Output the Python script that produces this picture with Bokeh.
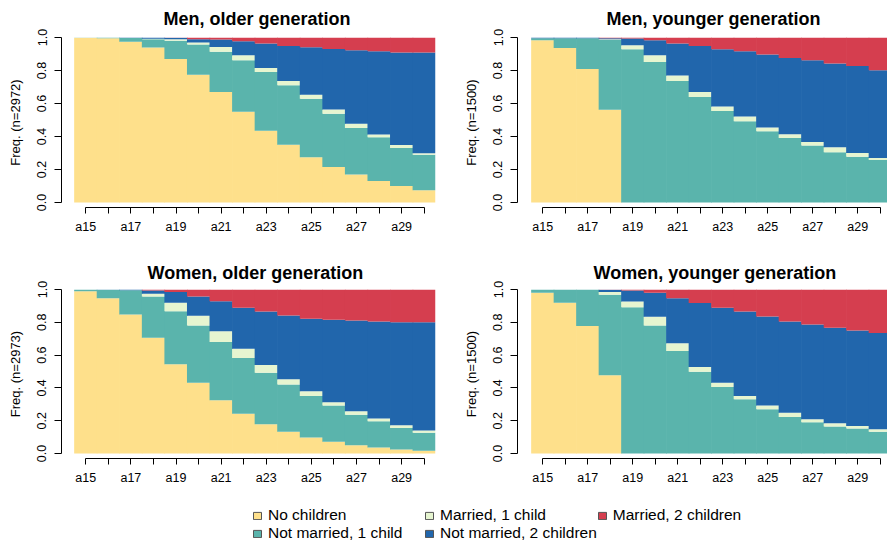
from bokeh.plotting import figure
from bokeh.models import (Range1d, FixedTicker, PrintfTickFormatter, ColumnDataSource,
                          Legend, LegendItem)
from bokeh.layouts import column, row
from bokeh.embed import file_html
from bokeh.resources import INLINE

# ---------------- data ----------------
ages = ["a15", "a16", "a17", "a18", "a19", "a20", "a21", "a22",
        "a23", "a24", "a25", "a26", "a27", "a28", "a29", "a30"]
age_tick_labels = ["a15", "", "a17", "", "a19", "", "a21", "",
                   "a23", "", "a25", "", "a27", "", "a29", ""]
states = ["No children", "Not married, 1 child", "Married, 1 child",
          "Not married, 2 children", "Married, 2 children"]
state_colors = ["#FEE08B", "#5AB4AC", "#E6F5D0", "#2166AC", "#D53E4F"]
y_ticks = [0.0, 0.2, 0.4, 0.6, 0.8, 1.0]

# Men, older generation (n=2972)
men_old_no_children = [0.998, 0.995, 0.975, 0.940, 0.870, 0.775, 0.670, 0.550, 0.435, 0.350, 0.275, 0.215, 0.170, 0.130, 0.100, 0.075]
men_old_notmar_1 = [0.002, 0.005, 0.022, 0.050, 0.110, 0.182, 0.243, 0.312, 0.356, 0.360, 0.354, 0.323, 0.282, 0.266, 0.231, 0.215]
men_old_mar_1 = [0.0, 0.0, 0.0, 0.003, 0.010, 0.013, 0.030, 0.031, 0.024, 0.026, 0.024, 0.026, 0.025, 0.016, 0.018, 0.008]
men_old_notmar_2 = [0.0, 0.0, 0.003, 0.007, 0.008, 0.020, 0.045, 0.085, 0.148, 0.213, 0.288, 0.367, 0.446, 0.505, 0.560, 0.611]
men_old_mar_2 = [0.0, 0.0, 0.0, 0.0, 0.002, 0.010, 0.012, 0.022, 0.037, 0.051, 0.059, 0.069, 0.077, 0.083, 0.091, 0.091]

# Men, younger generation (n=1500)
men_young_no_children = [0.984, 0.937, 0.809, 0.562, 0.0, 0.0, 0.0, 0.0, 0.0, 0.0, 0.0, 0.0, 0.0, 0.0, 0.0, 0.0]
men_young_notmar_1 = [0.011, 0.058, 0.186, 0.424, 0.929, 0.852, 0.736, 0.639, 0.554, 0.493, 0.432, 0.391, 0.345, 0.304, 0.278, 0.258]
men_young_mar_1 = [0.0, 0.0, 0.0, 0.004, 0.024, 0.040, 0.033, 0.030, 0.028, 0.028, 0.022, 0.023, 0.022, 0.031, 0.022, 0.012]
men_young_notmar_2 = [0.005, 0.005, 0.005, 0.006, 0.041, 0.092, 0.194, 0.280, 0.347, 0.396, 0.443, 0.462, 0.495, 0.507, 0.528, 0.531]
men_young_mar_2 = [0.0, 0.0, 0.0, 0.004, 0.006, 0.016, 0.037, 0.051, 0.071, 0.083, 0.103, 0.124, 0.138, 0.158, 0.172, 0.199]

# Women, older generation (n=2973)
women_old_no_children = [0.990, 0.947, 0.848, 0.706, 0.544, 0.432, 0.325, 0.243, 0.178, 0.132, 0.097, 0.071, 0.051, 0.037, 0.024, 0.016]
women_old_notmar_1 = [0.010, 0.051, 0.147, 0.251, 0.324, 0.349, 0.355, 0.339, 0.315, 0.288, 0.254, 0.221, 0.186, 0.160, 0.132, 0.110]
women_old_mar_1 = [0.0, 0.0, 0.0, 0.017, 0.051, 0.059, 0.066, 0.057, 0.047, 0.032, 0.028, 0.020, 0.021, 0.016, 0.016, 0.014]
women_old_notmar_2 = [0.0, 0.002, 0.005, 0.020, 0.065, 0.117, 0.183, 0.249, 0.326, 0.390, 0.443, 0.503, 0.553, 0.592, 0.629, 0.661]
women_old_mar_2 = [0.0, 0.0, 0.0, 0.006, 0.016, 0.043, 0.071, 0.112, 0.134, 0.158, 0.178, 0.185, 0.189, 0.195, 0.199, 0.199]

# Women, younger generation (n=1500)
women_young_no_children = [0.980, 0.919, 0.777, 0.477, 0.0, 0.0, 0.0, 0.0, 0.0, 0.0, 0.0, 0.0, 0.0, 0.0, 0.0, 0.0]
women_young_notmar_1 = [0.020, 0.081, 0.223, 0.491, 0.892, 0.781, 0.625, 0.499, 0.406, 0.331, 0.270, 0.223, 0.191, 0.164, 0.152, 0.132]
women_young_mar_1 = [0.0, 0.0, 0.0, 0.016, 0.035, 0.053, 0.048, 0.028, 0.026, 0.020, 0.022, 0.026, 0.018, 0.021, 0.016, 0.016]
women_young_notmar_2 = [0.0, 0.0, 0.0, 0.014, 0.067, 0.146, 0.274, 0.390, 0.456, 0.515, 0.544, 0.556, 0.578, 0.582, 0.582, 0.586]
women_young_mar_2 = [0.0, 0.0, 0.0, 0.002, 0.006, 0.020, 0.053, 0.083, 0.112, 0.134, 0.164, 0.195, 0.213, 0.233, 0.250, 0.266]

FONT = "Liberation Sans"
keys = ["s0", "s1", "s2", "s3", "s4"]


def make_panel(title, n, series, width, height, mb_left, mb_right, mb_top, mb_bottom,
               x_start, x_end, y_start, title_offset, title_standoff, title_valign):
    p = figure(width=width, height=height,
               x_range=Range1d(x_start, x_end),
               y_range=Range1d(y_start, 1.0),
               output_backend="svg", toolbar_location=None,
               min_border_left=mb_left, min_border_right=mb_right,
               min_border_top=mb_top, min_border_bottom=mb_bottom)
    data = {"x": list(range(len(ages)))}
    for k, s in zip(keys, series):
        data[k] = s
    src = ColumnDataSource(data)
    # slightly wider than 1 so neighbouring bars overlap and no white seams appear
    p.vbar_stack(keys, x="x", width=1.03, fill_color=state_colors,
                 line_color=None, source=src)

    p.outline_line_color = None
    p.xgrid.visible = False
    p.ygrid.visible = False
    p.background_fill_color = "white"
    p.border_fill_color = "white"

    p.title.text = title
    p.title.align = "left"
    p.title.vertical_align = title_valign
    p.title.offset = title_offset
    p.title.standoff = title_standoff
    p.title.text_font = FONT
    p.title.text_font_size = "18px"
    p.title.text_font_style = "bold"
    p.title.text_color = "#000000"

    xa = p.xaxis[0]
    xa.ticker = FixedTicker(ticks=list(range(len(ages))))
    xa.major_label_overrides = {i: lab for i, lab in enumerate(age_tick_labels)}
    xa.bounds = (0, len(ages) - 1)
    xa.minor_tick_line_color = None
    xa.major_tick_in = 0
    xa.major_tick_out = 6
    xa.major_label_standoff = 6
    xa.major_label_text_font = FONT
    xa.major_label_text_font_size = "12.5px"
    xa.major_label_text_color = "#000000"
    xa.axis_line_color = "#000000"
    xa.major_tick_line_color = "#000000"

    ya = p.yaxis[0]
    ya.ticker = FixedTicker(ticks=y_ticks)
    ya.formatter = PrintfTickFormatter(format="%.1f")
    ya.bounds = (0, 1)
    ya.minor_tick_line_color = None
    ya.major_tick_in = 0
    ya.major_tick_out = 7
    ya.major_label_standoff = 8
    ya.major_label_orientation = "vertical"
    ya.major_label_text_font = FONT
    ya.major_label_text_font_size = "12.5px"
    ya.major_label_text_color = "#000000"
    ya.axis_line_color = "#000000"
    ya.major_tick_line_color = "#000000"
    ya.axis_label = f"Freq. (n={n})"
    ya.axis_label_text_font = FONT
    ya.axis_label_text_font_size = "13px"
    ya.axis_label_text_font_style = "normal"
    ya.axis_label_text_color = "#000000"
    ya.axis_label_standoff = 12
    return p


WL, WR = 460, 427
HT, HB, HL = 248, 242, 55

p1 = make_panel("Men, older generation", 2972,
                [men_old_no_children, men_old_notmar_1, men_old_mar_1, men_old_notmar_2, men_old_mar_2],
                WL, HT, 61, 25, 37, 41, -1.076, 15.5, -0.0303, 102, 14, "top")
p2 = make_panel("Men, younger generation", 1500,
                [men_young_no_children, men_young_notmar_1, men_young_mar_1, men_young_notmar_2, men_young_mar_2],
                WR, HT, 57, 0, 37, 41, -1.122, 15.322, -0.0303, 89, 14, "top")
p3 = make_panel("Women, older generation", 2973,
                [women_old_no_children, women_old_notmar_1, women_old_mar_1, women_old_notmar_2, women_old_mar_2],
                WL, HB, 61, 25, 41, 32, -1.076, 15.5, -0.0305, 86, 13, "bottom")
p4 = make_panel("Women, younger generation", 1500,
                [women_young_no_children, women_young_notmar_1, women_young_mar_1, women_young_notmar_2, women_young_mar_2],
                WR, HB, 57, 0, 41, 32, -1.122, 15.322, -0.0305, 76, 13, "bottom")

# legend figure
lf = figure(width=WL + WR, height=HL, x_range=Range1d(0, 1), y_range=Range1d(0, 1),
            x_axis_location=None, y_axis_location=None, output_backend="svg",
            toolbar_location=None, min_border=0)
lf.outline_line_color = None
lf.grid.visible = False
items = []
nan = float("nan")
for name, c in zip(states, state_colors):
    r = lf.vbar(x=[nan], top=[nan], width=1, fill_color=c, line_color="#555555", line_width=1)
    items.append(LegendItem(label=name, renderers=[r]))
legend = Legend(items=items, location=(252, 3), orientation="vertical", nrows=2,
                glyph_width=10, glyph_height=9, label_standoff=6, label_width=156,
                label_height=16, spacing=0, padding=0, margin=0,
                border_line_color=None, background_fill_alpha=0,
                label_text_font=FONT, label_text_font_size="15.5px",
                label_text_color="#000000")
lf.add_layout(legend)

layout = column(row(p1, p2), row(p3, p4), lf)
open("out.html", "w").write(file_html(layout, INLINE))
